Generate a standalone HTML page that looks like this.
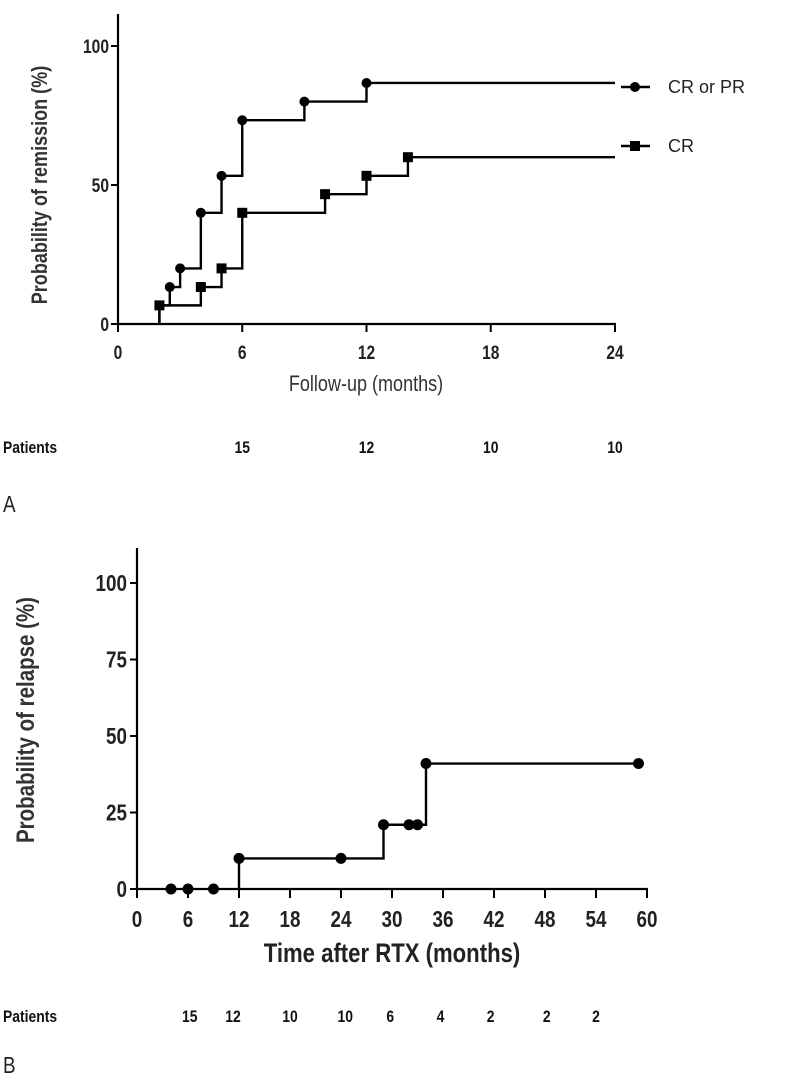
<!DOCTYPE html>
<html><head><meta charset="utf-8"><style>
body{margin:0;background:#fff;width:800px;height:1081px;overflow:hidden}
svg{display:block}
text{font-family:"Liberation Sans",Arial,sans-serif}
</style></head><body>
<svg id="s" width="800" height="1081"></svg>
<script>
// Panel A data
const aTicksX=[0,6,12,18,24];
const aTicksY=[0,50,100];
const crprX=[2,2.5,3,4,5,6,9,12];
const crprY=[6.7,13.3,20,40,53.3,73.3,80,86.7];
const crprMarkX=[2.5,3,4,5,6,9,12];
const crX=[2,4,5,6,10,12,14];
const crY=[6.7,13.3,20,40,46.7,53.3,60];
const aEnd=24;
const aPatients=["15","12","10","10"];
const aPatientsAt=[6,12,18,24];
// Panel B data
const bTicksX=[0,6,12,18,24,30,36,42,48,54,60];
const bTicksY=[0,25,50,75,100];
const relX=[12,29,34];
const relY=[10,21,41];
const relMarkX=[4,6,9,12,24,29,32,33,34,59];
const relEnd=59;
const bPatients=["15","12","10","10","6","4","2","2","2"];
const bPatientsAt=[6.2,11.3,18,24.5,29.8,35.7,41.6,48.2,54];

const NS="http://www.w3.org/2000/svg",S=document.getElementById('s');
function el(t,a,txt){const e=document.createElementNS(NS,t);for(const k in a)e.setAttribute(k,a[k]);if(txt!=null)e.textContent=txt;S.appendChild(e);return e;}
// narrow text: positioned via transform, condensed horizontally
function nt(x,y,txt,size,opts){const a={x:0,y:0,'font-size':size,fill:opts.fill||'#222',transform:`translate(${x},${y}) ${opts.rot?'rotate(-90) ':''}scale(0.82,1)`};
 if(opts.anchor)a['text-anchor']=opts.anchor; if(opts.bold)a['font-weight']='bold'; return el('text',a,txt);}
const ax=v=>118+v*(615-118)/24, ay=v=>324-v*(324-46)/100;
const bx=v=>137+v*(647-137)/60, by=v=>889-v*(889-583)/100;
function stepPath(xs,ys,end,fx,fy){let d=`M${fx(xs[0])},${fy(0)}`;let prev=0;xs.forEach((x,i)=>{d+=`L${fx(x)},${fy(prev)}L${fx(x)},${fy(ys[i])}`;prev=ys[i];});d+=`L${fx(end)},${fy(prev)}`;return d;}
function valAt(xs,ys,x){let v=0;xs.forEach((xx,i)=>{if(xx<=x)v=ys[i];});return v;}

// ---- Panel A ----
let e;
e=el('line',{x1:ax(0),y1:14,x2:ax(0),y2:ay(0)+1,stroke:'#000','stroke-width':2.2});

e=el('line',{x1:ax(0)-1,y1:ay(0),x2:ax(24)+1,y2:ay(0),stroke:'#000','stroke-width':2.2});

aTicksY.forEach(v=>{el('line',{x1:ax(0)-7,y1:ay(v),x2:ax(0),y2:ay(v),stroke:'#000','stroke-width':2});
 e=nt(ax(0)-9,ay(v)+7,v,19,{anchor:'end',bold:1});
 });
aTicksX.forEach(v=>{el('line',{x1:ax(v),y1:ay(0),x2:ax(v),y2:ay(0)+8,stroke:'#000','stroke-width':2});
 e=nt(ax(v),359,v,19,{anchor:'middle',bold:1});
 });
e=nt(47,185,'Probability of remission (%)',22,{anchor:'middle',bold:1,rot:1,fill:'#333'});

e=nt(366,391,'Follow-up (months)',22,{anchor:'middle',fill:'#333'});

e=el('path',{d:stepPath(crprX,crprY,aEnd,ax,ay),fill:'none',stroke:'#000','stroke-width':2.4});

e=el('path',{d:stepPath(crX,crY,aEnd,ax,ay),fill:'none',stroke:'#000','stroke-width':2.4});

crprMarkX.forEach(x=>{e=el('circle',{cx:ax(x),cy:ay(valAt(crprX,crprY,x)),r:5,fill:'#000'});
 });
crX.forEach((x,i)=>{e=el('rect',{x:ax(x)-5,y:ay(crY[i])-5,width:10,height:10,fill:'#000'});
 });
el('line',{x1:621,y1:87,x2:650,y2:87,stroke:'#000','stroke-width':2.4});
el('circle',{cx:635,cy:87,r:5,fill:'#000'});
e=el('text',{x:668,y:93,'font-size':18,fill:'#222'},'CR or PR');

el('line',{x1:621,y1:146,x2:650,y2:146,stroke:'#000','stroke-width':2.4});
el('rect',{x:630,y:141,width:10,height:10,fill:'#000'});
e=el('text',{x:668,y:152,'font-size':18,fill:'#222'},'CR');

e=nt(3,453,'Patients',17,{bold:1,fill:'#111'});

aPatients.forEach((p,i)=>{e=nt(ax(aPatientsAt[i]),453,p,17,{anchor:'middle',bold:1,fill:'#111'});
 });
e=nt(3,512,'A',23,{});


// ---- Panel B ----
e=el('line',{x1:bx(0),y1:548,x2:bx(0),y2:by(0)+1,stroke:'#000','stroke-width':2.2});

e=el('line',{x1:bx(0)-1,y1:by(0),x2:bx(60)+1,y2:by(0),stroke:'#000','stroke-width':2.2});

bTicksY.forEach(v=>{el('line',{x1:bx(0)-7,y1:by(v),x2:bx(0),y2:by(v),stroke:'#000','stroke-width':2});
 e=nt(bx(0)-10,by(v)+8,v,23,{anchor:'end',bold:1});
 });
bTicksX.forEach(v=>{el('line',{x1:bx(v),y1:by(0),x2:bx(v),y2:by(0)+9,stroke:'#000','stroke-width':2});
 e=nt(bx(v),927,v,23,{anchor:'middle',bold:1});
 });
e=nt(34,720,'Probability of relapse (%)',25,{anchor:'middle',bold:1,rot:1,fill:'#333'});

e=nt(392,962,'Time after RTX (months)',27,{anchor:'middle',bold:1});

e=el('path',{d:stepPath(relX,relY,relEnd,bx,by),fill:'none',stroke:'#000','stroke-width':2.4});

relMarkX.forEach(x=>{e=el('circle',{cx:bx(x),cy:by(valAt(relX,relY,x)),r:5.5,fill:'#000'});
 });
e=nt(3,1022,'Patients',17,{bold:1,fill:'#111'});

bPatients.forEach((p,i)=>{e=nt(bx(bPatientsAt[i]),1022,p,17,{anchor:'middle',bold:1,fill:'#111'});
 });
e=nt(3,1073,'B',23,{});

</script>
</body></html>
